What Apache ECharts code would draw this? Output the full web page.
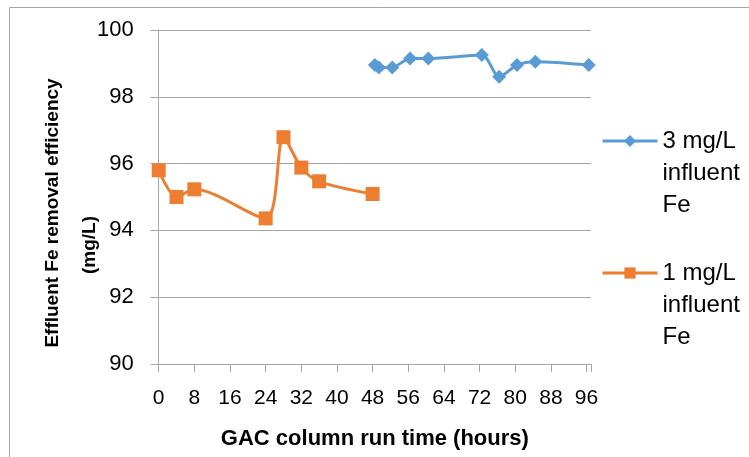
<!DOCTYPE html>
<html><head><meta charset="utf-8">
<script src="https://cdn.jsdelivr.net/npm/echarts@6/dist/echarts.min.js"></script>
<style>html,body{margin:0;padding:0;background:#fff}#c{width:749px;height:457px}</style>
</head><body><div id="c"></div>
<script>
const xTicks = [0, 8, 16, 24, 32, 40, 48, 56, 64, 72, 80, 88, 96];
const yTicks = [90, 92, 94, 96, 98, 100];
const hours3 = [48.5, 49.4, 52.4, 56.4, 60.5, 72.5, 76.4, 80.4, 84.5, 96.5];
const eff3 = [98.95, 98.88, 98.88, 99.15, 99.15, 99.25, 98.60, 98.95, 99.05, 98.95];
const hours1 = [0, 4, 8, 24, 28, 32, 36, 48];
const eff1 = [95.8, 95.0, 95.23, 94.36, 96.79, 95.88, 95.47, 95.09];
const name3 = '3 mg/L\ninfluent\nFe';
const name1 = '1 mg/L\ninfluent\nFe';

const FONT = "'Liberation Sans', Arial, sans-serif";
const chart = echarts.init(document.getElementById('c'), null, {renderer: 'canvas'});
const legendText = {fontFamily: FONT, fontSize: 24, color: '#000', lineHeight: 32};
chart.setOption({
  animation: false,
  backgroundColor: '#fff',
  grid: {left: 158.7, right: 158, top: 30, bottom: 93, containLabel: false},
  xAxis: {
    type: 'value', min: 0, max: 97, interval: 8,
    axisLine: {show: true, lineStyle: {color: '#a6a6a6', width: 1}},
    axisTick: {show: true, inside: false, length: 8, lineStyle: {color: '#a6a6a6'}},
    axisLabel: {margin: 24, fontFamily: FONT, fontSize: 21, color: '#000',
      customValues: xTicks},
    splitLine: {show: false},
    name: 'GAC column run time (hours)', nameLocation: 'middle', nameGap: 64,
    nameTextStyle: {fontFamily: FONT, fontSize: 22, fontWeight: 'bold', color: '#000'}
  },
  yAxis: {
    type: 'value', min: 90, max: 100, interval: 2,
    axisLine: {show: true, lineStyle: {color: '#a6a6a6', width: 1}},
    axisTick: {show: true, inside: false, length: 8, lineStyle: {color: '#a6a6a6'}},
    axisLabel: {margin: 25, fontFamily: FONT, fontSize: 22, color: '#000'},
    splitLine: {show: true, lineStyle: {color: '#a6a6a6', width: 1}}
  },
  legend: [
    {data: [name3], left: 601, top: 61, padding: 0, itemWidth: 55, itemHeight: 15, itemGap: 0,
     lineStyle: {width: 3}, formatter: n => '\n\n' + n, textStyle: legendText},
    {data: [name1], left: 601, top: 193, padding: 0, itemWidth: 55, itemHeight: 14, itemGap: 0,
     lineStyle: {width: 3}, formatter: n => '\n\n' + n, textStyle: legendText}
  ],
  graphic: [
    {type: 'rect', silent: true, shape: {x: 9.5, y: 7.5, width: 800, height: 500},
     style: {fill: 'none', stroke: '#a6a6a6', lineWidth: 1}},
    {type: 'text', silent: true, x: 53, y: 213, rotation: Math.PI / 2,
     style: {text: 'Effluent Fe removal efficiency', fontFamily: FONT, fontSize: 19, fontWeight: 'bold',
       fill: '#000', align: 'center', verticalAlign: 'middle'}},
    {type: 'text', silent: true, x: 90, y: 245, rotation: Math.PI / 2,
     style: {text: '(mg/L)', fontFamily: FONT, fontSize: 19, fontWeight: 'bold',
       fill: '#000', align: 'center', verticalAlign: 'middle'}}
  ],
  series: [
    {name: name3, type: 'line', smooth: 0.3, data: hours3.map((h, i) => [h, eff3[i]]),
     symbol: 'diamond', symbolSize: 14, color: '#5b9bd5',
     lineStyle: {width: 3, color: '#5b9bd5'}, itemStyle: {color: '#5b9bd5'}},
    {name: name1, type: 'line', smooth: 0.3, data: hours1.map((h, i) => [h, eff1[i]]),
     symbol: 'rect', symbolSize: 14, color: '#ed7d31',
     lineStyle: {width: 3, color: '#ed7d31'}, itemStyle: {color: '#ed7d31'}}
  ]
});
</script></body></html>
